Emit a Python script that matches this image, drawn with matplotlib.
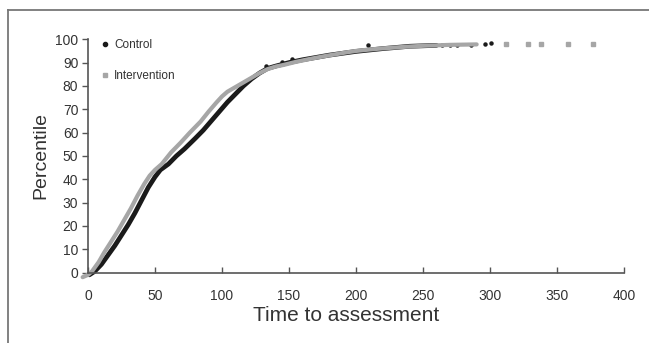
import matplotlib
matplotlib.use("Agg")
import matplotlib.pyplot as plt
from matplotlib.lines import Line2D

plt.rcParams['font.family'] = ['Liberation Sans', 'DejaVu Sans']

# cumulative percentile curves
control_t = [1, 5, 10, 15, 20, 25, 30, 35, 40, 45, 50, 54, 60, 66, 72, 80, 86, 92,
             98, 104, 110, 116, 122, 128, 134, 140, 150, 160, 170, 180, 190, 200,
             210, 220, 230, 240, 250, 260]
control_p = [-1, 0.5, 3.5, 7.5, 11.5, 16, 20.5, 25.5, 31, 36.5, 41, 44, 46.5, 50,
             53, 57.5, 61, 65, 69, 73, 76.5, 80, 83, 85.5, 87.5, 88.5, 90, 91.2,
             92.2, 93.2, 94, 94.8, 95.4, 96, 96.5, 97, 97.2, 97.4]
control_dots_t = [133, 145, 152, 209, 264, 270, 275, 286, 296, 301]
control_dots_p = [88.5, 90.3, 91.6, 97.4, 97.5, 97.6, 97.6, 97.7, 97.9, 98.2]

interv_t = [-4, 0, 3, 8, 12, 17, 22, 27, 32, 37, 42, 46, 50, 55, 62, 69, 76, 84,
            90, 96, 100, 104, 110, 116, 122, 128, 134, 140, 146, 155, 165, 175,
            185, 193, 200, 210, 220, 230, 240, 250, 260, 270, 280, 290]
interv_p = [-2, -1, 0.5, 4.5, 8.5, 13, 17.5, 22.5, 27.5, 33, 38, 41.5, 44, 46.5,
            51.5, 55.6, 60, 64.7, 69, 73, 75.5, 77.5, 79.5, 81.5, 83.5, 85.5, 87.2,
            88.3, 89, 90.3, 91.5, 92.6, 93.6, 94.4, 95, 95.6, 96.1, 96.5, 96.9,
            97.2, 97.4, 97.6, 97.7, 97.8]
interv_dots_t = [312, 328, 338, 358, 377]
interv_dots_p = [97.9, 97.9, 97.9, 97.9, 97.9]

black = "#1a1a1a"
grey = "#a6a6a6"
axcol = "#555555"
txtcol = "#333333"

fig = plt.figure(figsize=(6.49, 3.43), dpi=100)
ax = fig.add_axes([0.1356, 0.2055, 0.826, 0.680])

ax.plot(control_t, control_p, color=black, lw=3.4, solid_capstyle='round', clip_on=False)
ax.plot(control_dots_t, control_dots_p, 'o', color=black, ms=2.2, clip_on=False)
ax.plot(interv_t, interv_p, color=grey, lw=3.0, solid_capstyle='round', clip_on=False)
ax.plot(interv_dots_t, interv_dots_p, 's', color=grey, ms=2.2, clip_on=False)

ax.set_xlim(0, 400)
ax.set_ylim(0, 100)
ax.set_xticks(range(0, 401, 50))
ax.set_yticks(range(0, 101, 10))

for s in ['top', 'right']:
    ax.spines[s].set_visible(False)
for s in ['left', 'bottom']:
    ax.spines[s].set_color(axcol)
    ax.spines[s].set_linewidth(1.2)

ax.tick_params(axis='x', direction='in', length=4, width=1, color=axcol,
               labelsize=10, labelcolor=txtcol, pad=12)
ax.tick_params(axis='y', direction='out', length=4, width=1, color=axcol,
               labelsize=10, labelcolor=txtcol, pad=3)

ax.set_xlabel("Time to assessment", fontsize=15, color=txtcol, labelpad=2, x=0.481)
ax.set_ylabel("Percentile", fontsize=14, color=txtcol, labelpad=4)

handles = [Line2D([], [], marker='o', ls='', color=black, ms=3),
           Line2D([], [], marker='s', ls='', color=grey, ms=3)]
ax.legend(handles, ["Control", "Intervention"], loc='upper left',
          bbox_to_anchor=(0.005, 1.045), frameon=False, fontsize=8.5,
          handlelength=0.6, handletextpad=0.5, labelspacing=1.6,
          labelcolor=txtcol)

# outer frame, only top and left edges visible
fig.add_artist(Line2D([8 / 649, 1], [1 - 10 / 343, 1 - 10 / 343],
                      color="#777777", lw=1.3, transform=fig.transFigure))
fig.add_artist(Line2D([8 / 649, 8 / 649], [0, 1 - 10 / 343],
                      color="#777777", lw=1.3, transform=fig.transFigure))

fig.savefig("out.png", dpi=100)
